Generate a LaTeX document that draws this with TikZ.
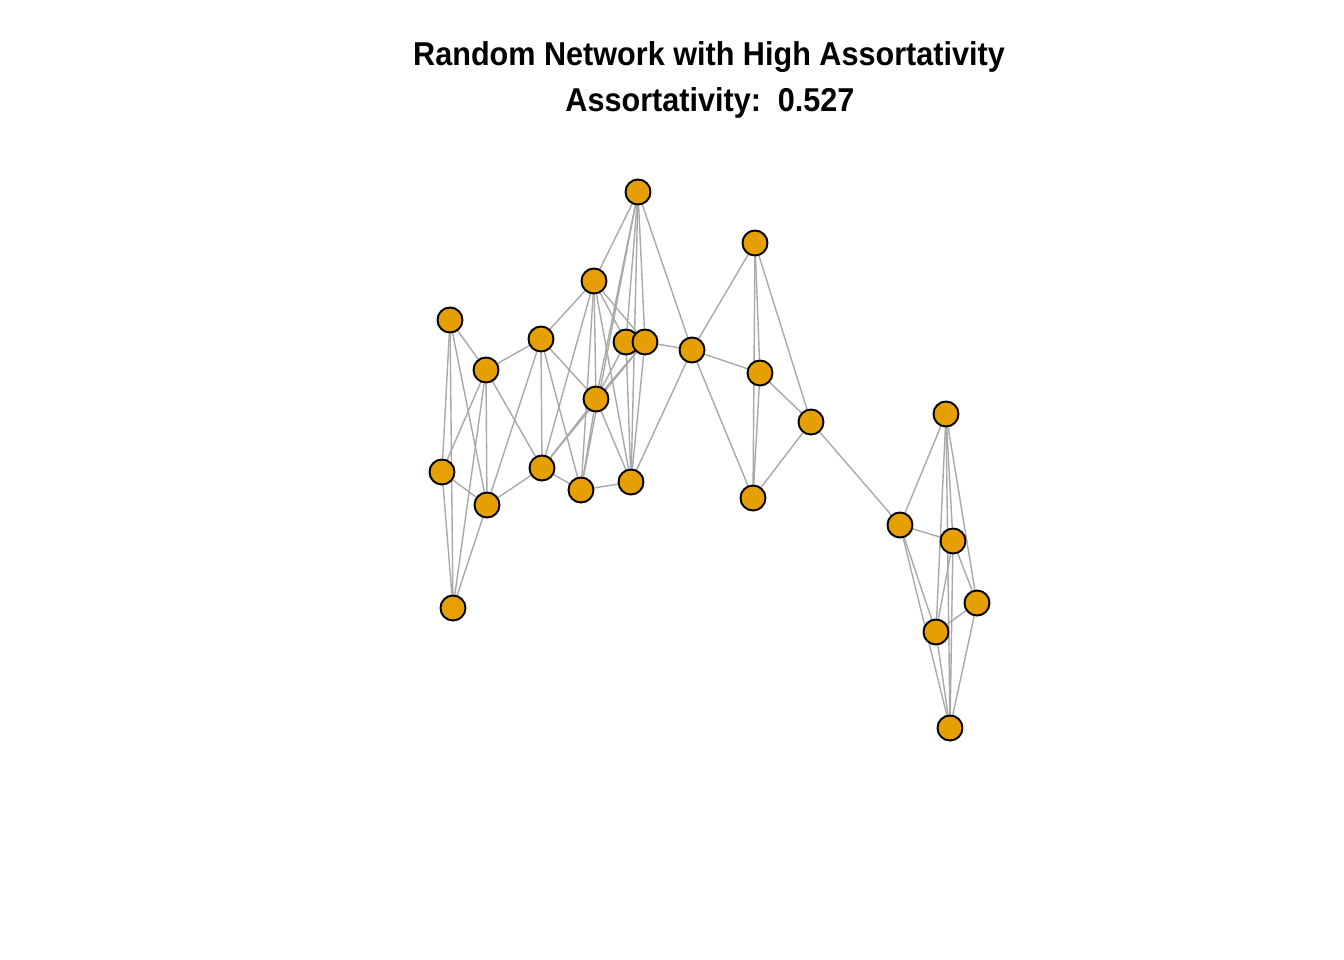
\documentclass[tikz,border=0pt]{standalone}
\usepackage{fontspec}
\setmainfont{Liberation Sans}
\usepackage{tikz}
\definecolor{vertex}{RGB}{230,159,0}
\definecolor{link}{RGB}{169,169,169}
\usetikzlibrary{positioning,backgrounds}
\tikzset{%
  vtx/.style={draw, circle, fill=vertex, line width=0.55pt, minimum size=0.25cm, inner sep=0pt},% network vertex
  tie/.style={draw=link, line width=0.4pt},% undirected edge
  headline/.style={font=\fontsize{8.7}{10}\selectfont\bfseries, yscale=1.08, inner sep=0pt}% plot title
}

\begin{document}
\begin{tikzpicture}[x=0.01cm, y=-0.01cm]
\useasboundingbox (0,0) rectangle (1344,960);

\node[headline] (title) at (709, 57) {Random Network with High Assortativity};
\node[headline] (subtitle) at (710, 103) {Assortativity:\ \ 0.527};

% left community
\node[vtx] (a) at (450, 320) {};
\node[vtx] (b) at (486, 370) {};
\node[vtx] (c) at (541, 339) {};
\node[vtx] (d) at (594, 281) {};
\node[vtx] (e) at (638, 192) {};
\node[vtx] (f) at (626, 342) {};
\node[vtx] (g) at (645, 342) {};
\node[vtx] (i) at (596, 399) {};
\node[vtx] (j) at (442, 472) {};
\node[vtx] (k) at (487, 505) {};
\node[vtx] (l) at (542, 468) {};
\node[vtx] (m) at (581, 490) {};
\node[vtx] (n) at (631, 482) {};
\node[vtx] (o) at (453, 608) {};
% middle
\node[vtx] (h) at (692, 350) {};
\node[vtx] (p) at (755, 243) {};
\node[vtx] (q) at (760, 373) {};
\node[vtx] (r) at (811, 422) {};
\node[vtx] (s) at (753, 498) {};
% right community
\node[vtx] (t) at (946, 414) {};
\node[vtx] (u) at (900, 525) {};
\node[vtx] (v) at (953, 541) {};
\node[vtx] (w) at (977, 603) {};
\node[vtx] (x) at (936, 632) {};
\node[vtx] (y) at (950, 728) {};

\begin{scope}[on background layer]
\draw[tie] (a) -- (b);
\draw[tie] (a) -- (j);
\draw[tie] (a) -- (o);
\draw[tie] (a) -- (k);
\draw[tie] (b) -- (c);
\draw[tie] (b) -- (j);
\draw[tie] (b) -- (k);
\draw[tie] (b) -- (o);
\draw[tie] (b) -- (l);
\draw[tie] (c) -- (d);
\draw[tie] (c) -- (l);
\draw[tie] (c) -- (k);
\draw[tie] (c) -- (m);
\draw[tie] (c) -- (i);
\draw[tie] (j) -- (k);
\draw[tie] (j) -- (o);
\draw[tie] (k) -- (l);
\draw[tie] (k) -- (o);
\draw[tie] (l) -- (m);
\draw[tie] (l) -- (i);
\draw[tie] (l) -- (d);
\draw[tie] (l) -- (g);
\draw[tie] (m) -- (n);
\draw[tie] (m) -- (i);
\draw[tie] (m) -- (d);
\draw[tie] (m) -- (e);
\draw[tie] (n) -- (d);
\draw[tie] (n) -- (e);
\draw[tie] (n) -- (f);
\draw[tie] (n) -- (g);
\draw[tie] (n) -- (h);
\draw[tie] (n) -- (i);
\draw[tie] (i) -- (d);
\draw[tie] (i) -- (f);
\draw[tie] (i) -- (g);
\draw[tie] (i) -- (e);
\draw[tie] (d) -- (e);
\draw[tie] (d) -- (f);
\draw[tie] (d) -- (g);
\draw[tie] (e) -- (f);
\draw[tie] (e) -- (g);
\draw[tie] (e) -- (h);
\draw[tie] (f) -- (g);
\draw[tie] (g) -- (h);
\draw[tie] (h) -- (p);
\draw[tie] (h) -- (q);
\draw[tie] (h) -- (s);
\draw[tie] (p) -- (q);
\draw[tie] (p) -- (s);
\draw[tie] (p) -- (r);
\draw[tie] (q) -- (r);
\draw[tie] (q) -- (s);
\draw[tie] (r) -- (s);
\draw[tie] (r) -- (u);
\draw[tie] (t) -- (u);
\draw[tie] (t) -- (v);
\draw[tie] (t) -- (w);
\draw[tie] (t) -- (x);
\draw[tie] (t) -- (y);
\draw[tie] (u) -- (v);
\draw[tie] (u) -- (x);
\draw[tie] (u) -- (y);
\draw[tie] (v) -- (w);
\draw[tie] (v) -- (x);
\draw[tie] (v) -- (y);
\draw[tie] (w) -- (x);
\draw[tie] (w) -- (y);
\draw[tie] (x) -- (y);
\end{scope}

\end{tikzpicture}
\end{document}
